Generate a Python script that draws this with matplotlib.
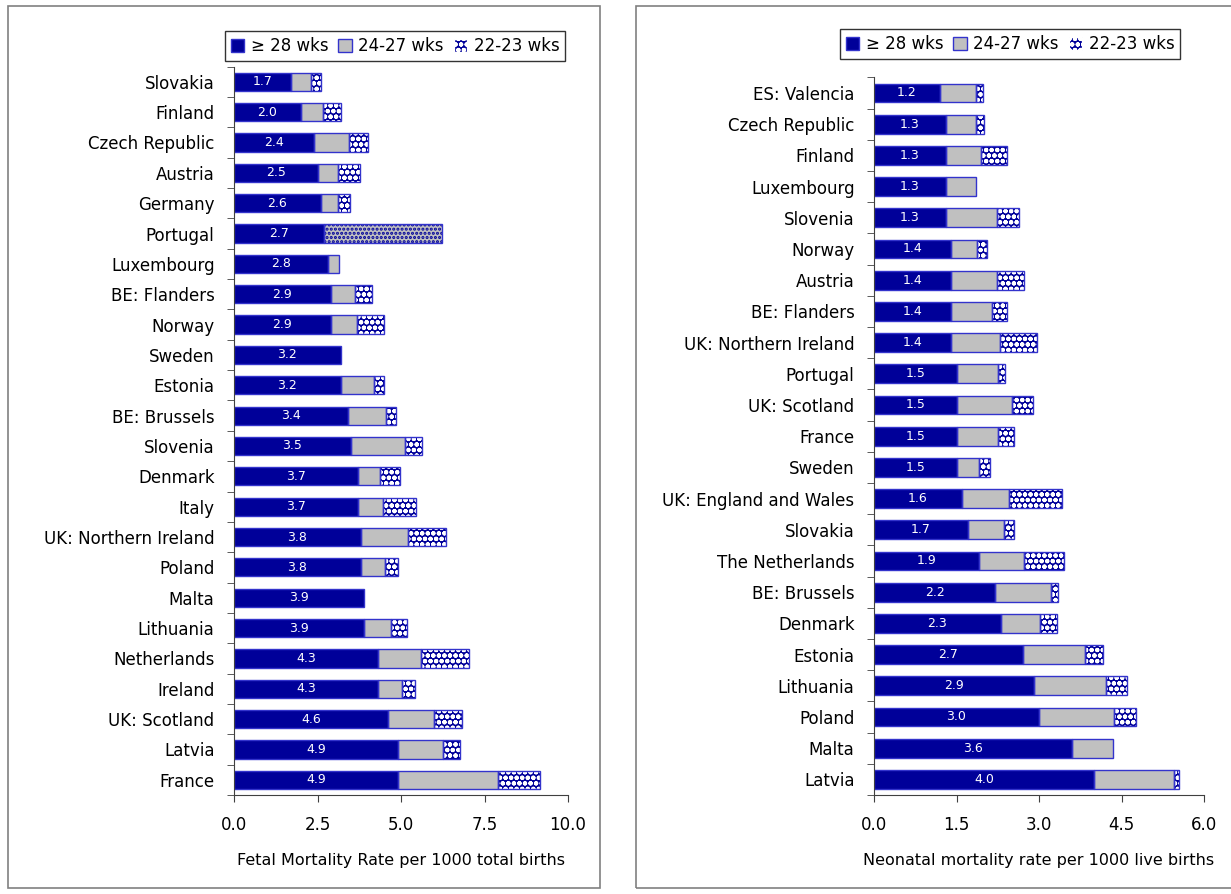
import numpy as np
import matplotlib.pyplot as plt
from matplotlib.patches import Patch, Rectangle
from matplotlib.ticker import FormatStrFormatter

# fetal mortality, per 1000 total births
fetal_countries = ["Slovakia", "Finland", "Czech Republic", "Austria", "Germany", "Portugal",
                   "Luxembourg", "BE: Flanders", "Norway", "Sweden", "Estonia", "BE: Brussels",
                   "Slovenia", "Denmark", "Italy", "UK: Northern Ireland", "Poland", "Malta",
                   "Lithuania", "Netherlands", "Ireland", "UK: Scotland", "Latvia", "France"]
fetal_28 = [1.7, 2.0, 2.4, 2.5, 2.6, 2.7, 2.8, 2.9, 2.9, 3.2, 3.2, 3.4,
            3.5, 3.7, 3.7, 3.8, 3.8, 3.9, 3.9, 4.3, 4.3, 4.6, 4.9, 4.9]
fetal_24 = [0.62, 0.67, 1.04, 0.60, 0.50, 0.0, 0.33, 0.72, 0.78, 0.0, 0.99, 1.16,
            1.63, 0.68, 0.75, 1.41, 0.72, 0.0, 0.79, 1.30, 0.74, 1.38, 1.36, 3.00]
fetal_22 = [0.27, 0.54, 0.57, 0.68, 0.38, 0.0, 0.0, 0.50, 0.81, 0.0, 0.30, 0.28,
            0.50, 0.58, 1.01, 1.15, 0.38, 0.0, 0.50, 1.44, 0.38, 0.84, 0.51, 1.26]
# Portugal reports 22-27 wks together
fetal_22_27 = [0.0] * 5 + [3.52] + [0.0] * 18

# neonatal mortality, per 1000 live births
neo_countries = ["ES: Valencia", "Czech Republic", "Finland", "Luxembourg", "Slovenia", "Norway",
                 "Austria", "BE: Flanders", "UK: Northern Ireland", "Portugal", "UK: Scotland",
                 "France", "Sweden", "UK: England and Wales", "Slovakia", "The Netherlands",
                 "BE: Brussels", "Denmark", "Estonia", "Lithuania", "Poland", "Malta", "Latvia"]
neo_28 = [1.2, 1.3, 1.3, 1.3, 1.3, 1.4, 1.4, 1.4, 1.4, 1.5, 1.5, 1.5,
          1.5, 1.6, 1.7, 1.9, 2.2, 2.3, 2.7, 2.9, 3.0, 3.6, 4.0]
neo_24 = [0.66, 0.56, 0.64, 0.56, 0.93, 0.48, 0.83, 0.75, 0.89, 0.76, 1.00, 0.76,
          0.41, 0.86, 0.66, 0.83, 1.02, 0.71, 1.13, 1.31, 1.37, 0.75, 1.46]
neo_22 = [0.13, 0.14, 0.47, 0.0, 0.40, 0.18, 0.49, 0.27, 0.67, 0.12, 0.39, 0.29,
          0.20, 0.95, 0.19, 0.72, 0.13, 0.31, 0.34, 0.39, 0.40, 0.0, 0.09]

labels = ["\u2265 28 wks", "24-27 wks", "22-23 wks"]

NAVY = "#000099"
GREY = "#c0c0c0"
EDGE = "#3333cc"
CHECK = "ooo"

plt.rcParams['font.family'] = ['DejaVu Sans']
plt.rcParams['hatch.linewidth'] = 1.5


def draw_panel(ax, countries, v28, v24, v22, xmax, xstep, xlabel, combined=None):
    n = len(countries)
    y = np.arange(n)
    v28 = np.array(v28)
    v24 = np.array(v24)
    v22 = np.array(v22)
    h = 0.6
    ax.barh(y, v28, height=h, color=NAVY, linewidth=0)
    ax.barh(y, v24, left=v28, height=h, color=GREY, linewidth=0)
    ax.barh(y, v22, left=v28 + v24, height=h, color=NAVY, edgecolor="white",
            hatch=CHECK, linewidth=0)
    segs = [(np.zeros(n), v28), (v28, v24), (v28 + v24, v22)]
    if combined is not None:
        comb = np.array(combined)
        ax.barh(y, comb, left=v28, height=h, color=GREY, edgecolor=NAVY,
                hatch="....", linewidth=0)
        segs.append((v28, comb))
    for left, w in segs:
        m = w > 0
        ax.barh(y[m], w[m], left=left[m], height=h, fill=False,
                edgecolor=EDGE, linewidth=1)
    for yi, v in zip(y, v28):
        ax.text(v / 2, yi, "%.1f" % v, color="white", fontsize=9,
                ha="center", va="center")

    ax.set_ylim(n - 0.5, -0.5)
    ax.set_xlim(0, xmax)
    ax.set_yticks(y)
    ax.set_yticklabels(countries, fontsize=12)
    ax.set_yticks(np.arange(n + 1) - 0.5, minor=True)
    ax.tick_params(axis='y', which='major', length=0, pad=14)
    ax.tick_params(axis='y', which='minor', length=5, color="#404040")
    ax.set_xticks(np.arange(0, xmax + xstep / 2, xstep))
    ax.xaxis.set_major_formatter(FormatStrFormatter('%.1f'))
    ax.tick_params(axis='x', length=5, color="#404040", labelsize=12, pad=10)
    ax.set_xlabel(xlabel, fontsize=11.5, labelpad=14)
    for s in ["top", "right"]:
        ax.spines[s].set_visible(False)
    for s in ["left", "bottom"]:
        ax.spines[s].set_color("#404040")


fig = plt.figure(figsize=(12.31, 8.94), dpi=100)

# panel frames
fig.patches.append(Rectangle((8 / 1231, 6 / 894), 592 / 1231, 882 / 894,
                             transform=fig.transFigure, fill=False,
                             edgecolor="#808080", linewidth=1.2))
fig.patches.append(Rectangle((636 / 1231, 6 / 894), 620 / 1231, 882 / 894,
                             transform=fig.transFigure, fill=False,
                             edgecolor="#808080", linewidth=1.2))

ax1 = fig.add_axes([234 / 1231, 1 - 795 / 894, 334 / 1231, (795 - 66.6) / 894])
draw_panel(ax1, fetal_countries, fetal_28, fetal_24, fetal_22, 10.0, 2.5,
           "Fetal Mortality Rate per 1000 total births", combined=fetal_22_27)

ax2 = fig.add_axes([874 / 1231, 1 - 795 / 894, 330 / 1231, (795 - 77.4) / 894])
draw_panel(ax2, neo_countries, neo_28, neo_24, neo_22, 6.0, 1.5,
           "Neonatal mortality rate per 1000 live births")

handles = [Patch(facecolor=NAVY, edgecolor=EDGE),
           Patch(facecolor=GREY, edgecolor=EDGE),
           Patch(facecolor=NAVY, edgecolor="white", hatch=CHECK)]
for cx, cy in [(395 / 1231, 1 - 46 / 894), (1010 / 1231, 1 - 44 / 894)]:
    leg = fig.legend(handles, labels, loc="center", bbox_to_anchor=(cx, cy), ncol=3,
                     fontsize=12, handlelength=0.8, handleheight=0.8,
                     handletextpad=0.4, columnspacing=0.6, borderpad=0.35,
                     fancybox=False, edgecolor="black")
    leg.get_frame().set_linewidth(1)

fig.savefig("out.png", dpi=100)
